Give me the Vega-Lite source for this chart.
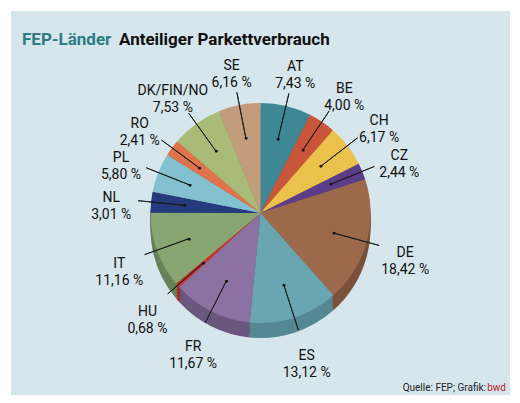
{
  "$schema": "https://vega.github.io/schema/vega-lite/v6.json",
  "autosize": {"type": "fit", "contains": "padding"},
  "width": 520,
  "height": 403,
  "padding": {"left": 11, "top": 11, "right": 10, "bottom": 8},
  "background": "#ffffff",
  "view": {"fill": "#d6e6ec", "stroke": null},
  "config": {
    "font": "Roboto, Liberation Sans, sans-serif"
  },
  "data": {
    "values": [
      {"land": "AT", "anteil": 7.43, "label": "AT\n7,43 %"},
      {"land": "BE", "anteil": 4.00, "label": "BE\n4,00 %"},
      {"land": "CH", "anteil": 6.17, "label": "CH\n6,17 %"},
      {"land": "CZ", "anteil": 2.44, "label": "CZ\n2,44 %"},
      {"land": "DE", "anteil": 18.42, "label": "DE\n18,42 %"},
      {"land": "ES", "anteil": 13.12, "label": "ES\n13,12 %"},
      {"land": "FR", "anteil": 11.67, "label": "FR\n11,67 %"},
      {"land": "HU", "anteil": 0.68, "label": "HU\n0,68 %"},
      {"land": "IT", "anteil": 11.16, "label": "IT\n11,16 %"},
      {"land": "NL", "anteil": 3.01, "label": "NL\n3,01 %"},
      {"land": "PL", "anteil": 5.80, "label": "PL\n5,80 %"},
      {"land": "RO", "anteil": 2.41, "label": "RO\n2,41 %"},
      {"land": "DK/FIN/NO", "anteil": 7.53, "label": "DK/FIN/NO\n7,53 %"},
      {"land": "SE", "anteil": 6.16, "label": "SE\n6,16 %"}
    ]
  },
  "transform": [
    {"window": [{"op": "row_number", "as": "nr"}]}
  ],
  "layer": [
    {
      "encoding": {
        "theta": {"field": "anteil", "type": "quantitative", "stack": true},
        "order": {"field": "nr", "type": "quantitative"}
      },
      "layer": [
        {"mark": {"type": "arc", "outerRadius": 110, "yOffset": 25}, "encoding": {"color": {"field": "land", "type": "nominal", "legend": null, "scale": {"domain": ["AT", "BE", "CH", "CZ", "DE", "ES", "FR", "HU", "IT", "NL", "PL", "RO", "DK/FIN/NO", "SE"], "range": ["#2f6a75", "#9e412d", "#b8973a", "#45306a", "#7a5139", "#558893", "#6a577e", "#a52a22", "#67825a", "#1c2d60", "#6699a6", "#b0593a", "#85945c", "#98795f"]}}}},
        {"mark": {"type": "arc", "outerRadius": 110, "yOffset": 22}, "encoding": {"color": {"field": "land", "type": "nominal", "legend": null}}},
        {"mark": {"type": "arc", "outerRadius": 110, "yOffset": 19}, "encoding": {"color": {"field": "land", "type": "nominal", "legend": null}}},
        {"mark": {"type": "arc", "outerRadius": 110, "yOffset": 16}, "encoding": {"color": {"field": "land", "type": "nominal", "legend": null}}},
        {"mark": {"type": "arc", "outerRadius": 110, "yOffset": 13}, "encoding": {"color": {"field": "land", "type": "nominal", "legend": null}}},
        {
          "mark": {"type": "arc", "outerRadius": 110, "yOffset": 10},
          "encoding": {
            "fill": {
              "field": "land",
              "type": "nominal",
              "legend": null,
              "scale": {
                "domain": ["AT", "BE", "CH", "CZ", "DE", "ES", "FR", "HU", "IT", "NL", "PL", "RO", "DK/FIN/NO", "SE"],
                "range": ["#3e8795", "#c9553b", "#e9c14b", "#5c3d8a", "#9c6a4b", "#6aa6b2", "#8b72a2", "#c8362b", "#87a672", "#263b7d", "#83c1d1", "#e0734c", "#a9bc77", "#c29c7b"]
              }
            }
          }
        },
        {
          "mark": {"type": "arc", "innerRadius": 76, "outerRadius": 123, "padAngle": 3, "yOffset": 10, "stroke": "#1a1a1a", "strokeWidth": 0.9, "fillOpacity": 0}
        },
        {
          "mark": {"type": "text", "radius": 76, "yOffset": 10, "text": "●", "fontSize": 7, "color": "#111111", "align": "center", "baseline": "middle"}
        },
        {
          "mark": {"type": "text", "radius": 150, "yOffset": 10, "lineBreak": "\n", "fontSize": 14, "color": "#111111", "align": "center", "baseline": "middle", "lineHeight": 17},
          "encoding": {"text": {"field": "label", "type": "nominal"}}
        }
      ]
    },
    {
      "data": {"values": [{"titel": "FEP-Länder"}]},
      "mark": {"type": "text", "x": 11, "y": 29, "align": "left", "fontSize": 17, "fontWeight": "bold", "color": "#2e7b86"},
      "encoding": {"text": {"field": "titel", "type": "nominal"}}
    },
    {
      "data": {"values": [{"titel": "Anteiliger Parkettverbrauch"}]},
      "mark": {"type": "text", "x": 108, "y": 29, "align": "left", "fontSize": 17, "fontWeight": "bold", "color": "#111111"},
      "encoding": {"text": {"field": "titel", "type": "nominal"}}
    },
    {
      "data": {"values": [{"quelle": "Quelle: FEP; Grafik:"}]},
      "mark": {"type": "text", "x": {"expr": "width - 24"}, "y": {"expr": "height - 7"}, "align": "right", "fontSize": 10, "color": "#222222"},
      "encoding": {"text": {"field": "quelle", "type": "nominal"}}
    },
    {
      "data": {"values": [{"quelle": "bwd"}]},
      "mark": {"type": "text", "x": {"expr": "width - 4"}, "y": {"expr": "height - 7"}, "align": "right", "fontSize": 10, "color": "#c0202a"},
      "encoding": {"text": {"field": "quelle", "type": "nominal"}}
    }
  ]
}
